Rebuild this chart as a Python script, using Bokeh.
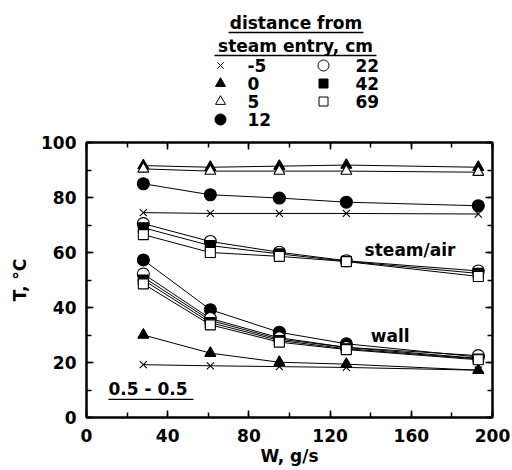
from bokeh.plotting import figure
from bokeh.layouts import column
from bokeh.models import Range1d, LinearAxis, SingleIntervalTicker, Label
from bokeh.embed import file_html
from bokeh.resources import INLINE
from bokeh.core.properties import value

# ---------------- data ----------------
W = [28, 61, 95, 128, 193]
distances = ["-5", "0", "5", "12", "22", "42", "69"]
marker_types = ["x", "triangle", "triangle", "circle", "circle", "square", "square"]
marker_filled = [True, True, False, True, False, True, False]

steam_m5 = [74.5, 74.2, 74.2, 74.2, 74.0]
steam_0 = [91.6, 91.0, 91.4, 91.8, 91.0]
steam_5 = [90.4, 89.6, 89.6, 89.6, 89.2]
steam_12 = [85.0, 81.0, 79.8, 78.3, 77.0]
steam_22 = [70.5, 64.0, 60.1, 57.0, 53.3]
steam_42 = [69.0, 62.5, 59.5, 56.8, 52.4]
steam_69 = [66.5, 60.0, 58.6, 56.7, 51.3]

wall_m5 = [19.2, 18.8, 18.5, 18.2, 17.2]
wall_0 = [30.0, 23.4, 20.1, 19.4, 17.2]
wall_5 = [51.0, 35.3, 28.5, 25.5, 21.5]
wall_12 = [57.3, 39.2, 31.0, 26.8, 22.0]
wall_22 = [52.2, 36.0, 29.0, 25.5, 22.5]
wall_42 = [50.0, 34.5, 28.0, 25.0, 21.3]
wall_69 = [48.6, 33.7, 27.4, 24.7, 21.0]

steam_series = [steam_m5, steam_0, steam_5, steam_12, steam_22, steam_42, steam_69]
wall_series = [wall_m5, wall_0, wall_5, wall_12, wall_22, wall_42, wall_69]

legend_title = ["distance from", "steam entry, cm"]
region_labels = ["steam/air", "wall"]
case_label = "0.5 - 0.5"

FONT = "DejaVu Sans"
FS = "17px"
marker_sizes = {"x": 10, "triangle": 11, "circle": 12, "square": 10}

# ---------------- legend panel (frame aligned to main frame: x 86..492 px) ----------------
LG_H = 132
lg = figure(width=512, height=LG_H, x_range=Range1d(86, 492), y_range=Range1d(LG_H, 0),
            output_backend="svg", toolbar_location=None, min_border=0,
            x_axis_type=None, y_axis_type=None)
lg.outline_line_color = None
lg.grid.visible = False

title_mid = [22, 45]
title_x0 = [228, 214]
title_x1 = [363, 376]
for t, ty, a, b in zip(legend_title, title_mid, title_x0, title_x1):
    lg.text(x=[(a + b) / 2], y=[ty], text=[t], text_font=value(FONT), text_font_style="bold",
            text_font_size=FS, text_align="center", text_baseline="middle", text_color="black")
    lg.segment(x0=[a], y0=[ty + 10], x1=[b], y1=[ty + 10], line_color="black", line_width=1.3)

for i, (d, m, f) in enumerate(zip(distances, marker_types, marker_filled)):
    col, row = divmod(i, 4)
    mx = 220 + col * 103
    tx = 247 + col * 108
    yy = 65 + row * 18
    lg.scatter(x=[mx], y=[yy], marker=m, size=marker_sizes[m] - 1, line_color="black",
               fill_color="black" if f else "white", line_width=1)
    lg.text(x=[tx], y=[yy], text=[d], text_font=value(FONT), text_font_style="bold",
            text_font_size=FS, text_align="left", text_baseline="middle", text_color="black")

# ---------------- main plot ----------------
p = figure(width=512, height=470 - LG_H, x_range=Range1d(0, 200), y_range=Range1d(0, 100),
           output_backend="svg", toolbar_location=None,
           min_border_left=86, min_border_right=20, min_border_top=142 - LG_H,
           min_border_bottom=470 - LG_H - (142 - LG_H) - 275)
p.grid.visible = False
p.outline_line_color = "black"
p.outline_line_width = 2

p.xaxis.ticker = SingleIntervalTicker(interval=40, num_minor_ticks=2)
p.yaxis.ticker = SingleIntervalTicker(interval=20, num_minor_ticks=2)
p.xaxis.axis_label = "W, g/s"
p.yaxis.axis_label = "T, °C"

for ax in [p.xaxis[0], p.yaxis[0]]:
    ax.major_tick_in = 7
    ax.major_tick_out = 0
    ax.minor_tick_in = 5
    ax.minor_tick_out = 0
    ax.axis_line_width = 2
    ax.major_tick_line_width = 1.5
    ax.minor_tick_line_width = 1.5
    ax.major_label_text_font = FONT
    ax.major_label_text_font_size = FS
    ax.major_label_text_font_style = "bold"
    ax.major_label_text_color = "black"
    ax.axis_label_text_font = FONT
    ax.axis_label_text_font_size = FS
    ax.axis_label_text_font_style = "bold"
    ax.axis_label_text_color = "black"
p.xaxis.major_label_standoff = 11
p.xaxis.axis_label_standoff = 1
p.yaxis.major_label_standoff = 10
p.yaxis.axis_label_standoff = 8

for loc, iv in [("right", 20), ("above", 40)]:
    ax = LinearAxis(ticker=SingleIntervalTicker(interval=iv, num_minor_ticks=2),
                    major_tick_in=7, major_tick_out=0, minor_tick_in=5, minor_tick_out=0,
                    major_label_text_font_size="0px", major_label_text_color=None,
                    major_label_standoff=0, axis_line_width=2,
                    major_tick_line_width=1.5, minor_tick_line_width=1.5)
    p.add_layout(ax, loc)

for series in (steam_series, wall_series):
    for ys in series:
        p.line(W, ys, line_color="black", line_width=1)
for series in (steam_series, wall_series):
    for ys, m, f in zip(series, marker_types, marker_filled):
        p.scatter(W, ys, marker=m, size=marker_sizes[m], line_color="black",
                  fill_color="black" if f else "white", line_width=1.1)

p.add_layout(Label(x=137, y=61, text=region_labels[0], text_font=FONT, text_font_style="bold",
                   text_font_size=FS, text_baseline="middle", text_color="black"))
p.add_layout(Label(x=140, y=29.8, text=region_labels[1], text_font=FONT, text_font_style="bold",
                   text_font_size=FS, text_baseline="middle", text_color="black"))
p.add_layout(Label(x=10.8, y=10.3, text=case_label, text_font=FONT, text_font_style="bold",
                   text_font_size=FS, text_baseline="middle", text_color="black"))
p.segment(x0=[10.8], y0=[6.6], x1=[52.7], y1=[6.6], line_color="black", line_width=1.3)

layout = column(lg, p, spacing=0)
open("out.html", "w").write(file_html(layout, INLINE))
